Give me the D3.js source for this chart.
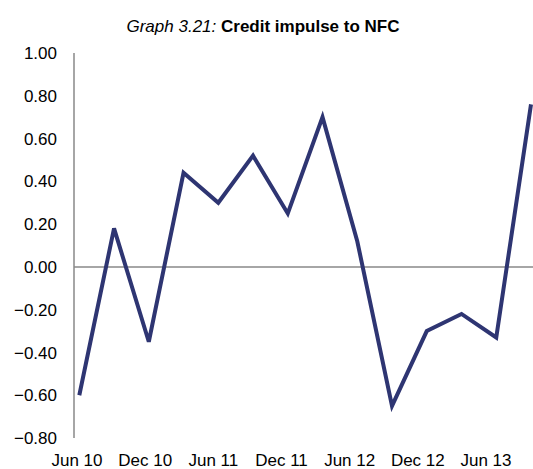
<!DOCTYPE html>
<html>
<head>
<meta charset="utf-8">
<script src="https://cdn.jsdelivr.net/npm/d3@7"></script>
<style>
  body { margin: 0; background: #fff; }
  text { font-family: "Liberation Sans", Arial, sans-serif; }
</style>
</head>
<body>
<svg id="chart" width="533" height="469"></svg>
<script>
// quarterly values, Jun 10 .. Sep 13
const quarters = ['Jun 10', 'Sep 10', 'Dec 10', 'Mar 11', 'Jun 11', 'Sep 11', 'Dec 11',
  'Mar 12', 'Jun 12', 'Sep 12', 'Dec 12', 'Mar 13', 'Jun 13', 'Sep 13'];
const impulse = [-0.60, 0.18, -0.35, 0.44, 0.30, 0.52, 0.25, 0.70, 0.12, -0.65, -0.30, -0.22, -0.33, 0.76];
const xLabels = ['Jun 10', 'Dec 10', 'Jun 11', 'Dec 11', 'Jun 12', 'Dec 12', 'Jun 13'];
const yTicks = [1.0, 0.8, 0.6, 0.4, 0.2, 0, -0.2, -0.4, -0.6, -0.8];

const svg = d3.select('#chart');
const axisX = 74;

const x = d3.scalePoint().domain(quarters).range([79.3, 531]);
const xLab = d3.scalePoint().domain(xLabels).range([77, 486]);
const y = d3.scaleLinear().domain([-0.8, 1.0]).range([438, 53]);

// title
const title = svg.append('text')
  .attr('x', 263)
  .attr('y', 32)
  .attr('text-anchor', 'middle')
  .style('font-size', '17px')
  .attr('fill', '#000');
title.append('tspan').style('font-style', 'italic').text('Graph 3.21: ');
title.append('tspan').style('font-weight', 'bold').text('Credit impulse to NFC');

// y axis labels
svg.append('g')
  .selectAll('text')
  .data(yTicks)
  .join('text')
  .attr('x', 57)
  .attr('y', d => y(d))
  .attr('dy', '0.36em')
  .attr('text-anchor', 'end')
  .style('font-size', '17px')
  .attr('fill', '#000')
  .text(d => d3.format('.2f')(d));

// x axis labels
svg.append('g')
  .selectAll('text')
  .data(xLabels)
  .join('text')
  .attr('x', d => xLab(d))
  .attr('y', 466)
  .attr('text-anchor', 'middle')
  .style('font-size', '17px')
  .attr('fill', '#000')
  .text(d => d);

// axis lines
svg.append('line')
  .attr('x1', axisX).attr('x2', axisX)
  .attr('y1', y(1.0)).attr('y2', y(-0.8))
  .attr('stroke', '#888').attr('stroke-width', 1.5);
svg.append('line')
  .attr('x1', axisX).attr('x2', 533)
  .attr('y1', y(0)).attr('y2', y(0))
  .attr('stroke', '#888').attr('stroke-width', 1.5);

// series
const line = d3.line()
  .x((d, i) => x(quarters[i]))
  .y(d => y(d));

svg.append('path')
  .datum(impulse)
  .attr('d', line)
  .attr('fill', 'none')
  .attr('stroke', '#2e3572')
  .attr('stroke-width', 4)
  .attr('stroke-linejoin', 'miter');
</script>
</body>
</html>
